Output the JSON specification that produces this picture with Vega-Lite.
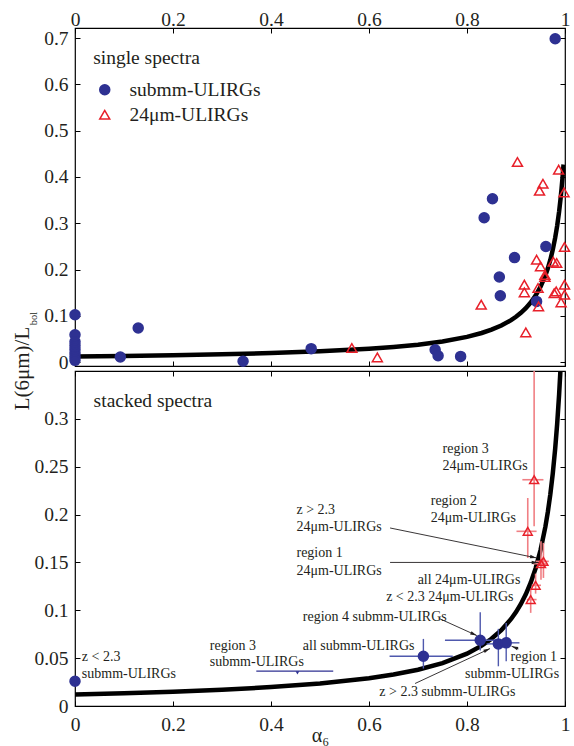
{
  "$schema": "https://vega.github.io/schema/vega-lite/v6.json",
  "padding": {"left": 10, "top": 8, "right": 4, "bottom": 0},
  "config": {
    "font": "Liberation Serif, Times New Roman, Times, serif",
    "view": {"stroke": "#000", "strokeWidth": 1.2},
    "axis": {"domain": false, "grid": false, "tickColor": "#000", "tickWidth": 1, "labelFont": "Liberation Serif, Times New Roman, Times, serif", "labelFontSize": 19.5, "labelColor": "#231f20", "titleFont": "Liberation Serif, Times New Roman, Times, serif", "titleColor": "#231f20", "titleFontWeight": "normal", "labelFlush": false, "labelOverlap": false},
    "legend": {"labelFont": "Liberation Serif, Times New Roman, Times, serif"},
    "text": {"font": "Liberation Serif, Times New Roman, Times, serif", "color": "#231f20"}
  },
  "datasets": {
    "curve": [
      {"a": 0, "l": 0.01205}, {"a": 0.1, "l": 0.01335}, {"a": 0.2, "l": 0.01497}, {"a": 0.3, "l": 0.01703},
      {"a": 0.4, "l": 0.01975}, {"a": 0.5, "l": 0.0235}, {"a": 0.6, "l": 0.02902}, {"a": 0.65, "l": 0.03288},
      {"a": 0.7, "l": 0.03792}, {"a": 0.75, "l": 0.04479}, {"a": 0.8, "l": 0.0547}, {"a": 0.83, "l": 0.06308},
      {"a": 0.85, "l": 0.07025}, {"a": 0.87, "l": 0.07926}, {"a": 0.89, "l": 0.09092}, {"a": 0.9, "l": 0.09814},
      {"a": 0.91, "l": 0.1066}, {"a": 0.92, "l": 0.1167}, {"a": 0.93, "l": 0.1288}, {"a": 0.94, "l": 0.1438},
      {"a": 0.95, "l": 0.1627}, {"a": 0.96, "l": 0.1874}, {"a": 0.965, "l": 0.2028}, {"a": 0.97, "l": 0.2209},
      {"a": 0.975, "l": 0.2426}, {"a": 0.98, "l": 0.269}, {"a": 0.984, "l": 0.2946}, {"a": 0.988, "l": 0.3256},
      {"a": 0.991, "l": 0.3536}, {"a": 0.993, "l": 0.3751}, {"a": 0.995, "l": 0.3993}, {"a": 0.997, "l": 0.4269}
    ],
    "single": [
      {"type": "submm-ULIRGs", "a": 0, "l": 0.1026}, {"type": "submm-ULIRGs", "a": 0, "l": 0.0594},
      {"type": "submm-ULIRGs", "a": 0, "l": 0.044}, {"type": "submm-ULIRGs", "a": 0, "l": 0.036},
      {"type": "submm-ULIRGs", "a": 0, "l": 0.028}, {"type": "submm-ULIRGs", "a": 0, "l": 0.02},
      {"type": "submm-ULIRGs", "a": 0, "l": 0.012}, {"type": "submm-ULIRGs", "a": 0, "l": 0.004},
      {"type": "submm-ULIRGs", "a": 0.0925, "l": 0.0112}, {"type": "submm-ULIRGs", "a": 0.129, "l": 0.0739},
      {"type": "submm-ULIRGs", "a": 0.343, "l": 0.002}, {"type": "submm-ULIRGs", "a": 0.98, "l": 0.6987},
      {"type": "submm-ULIRGs", "a": 0.852, "l": 0.353}, {"type": "submm-ULIRGs", "a": 0.835, "l": 0.312},
      {"type": "submm-ULIRGs", "a": 0.961, "l": 0.25}, {"type": "submm-ULIRGs", "a": 0.897, "l": 0.226},
      {"type": "submm-ULIRGs", "a": 0.866, "l": 0.184}, {"type": "submm-ULIRGs", "a": 0.868, "l": 0.1436},
      {"type": "submm-ULIRGs", "a": 0.942, "l": 0.1313}, {"type": "submm-ULIRGs", "a": 0.482, "l": 0.0292},
      {"type": "submm-ULIRGs", "a": 0.735, "l": 0.027}, {"type": "submm-ULIRGs", "a": 0.741, "l": 0.014},
      {"type": "submm-ULIRGs", "a": 0.787, "l": 0.0125},
      {"type": "24μm-ULIRGs", "a": 0.903, "l": 0.4324}, {"type": "24μm-ULIRGs", "a": 0.987, "l": 0.4158},
      {"type": "24μm-ULIRGs", "a": 0.955, "l": 0.3855}, {"type": "24μm-ULIRGs", "a": 0.948, "l": 0.3704},
      {"type": "24μm-ULIRGs", "a": 0.998, "l": 0.3667}, {"type": "24μm-ULIRGs", "a": 0.999, "l": 0.2488},
      {"type": "24μm-ULIRGs", "a": 0.942, "l": 0.2214}, {"type": "24μm-ULIRGs", "a": 0.95, "l": 0.2069},
      {"type": "24μm-ULIRGs", "a": 0.976, "l": 0.2171}, {"type": "24μm-ULIRGs", "a": 0.983, "l": 0.2143},
      {"type": "24μm-ULIRGs", "a": 0.959, "l": 0.1883}, {"type": "24μm-ULIRGs", "a": 0.959, "l": 0.184},
      {"type": "24μm-ULIRGs", "a": 0.917, "l": 0.1674}, {"type": "24μm-ULIRGs", "a": 0.917, "l": 0.1508},
      {"type": "24μm-ULIRGs", "a": 0.945, "l": 0.1603}, {"type": "24μm-ULIRGs", "a": 0.982, "l": 0.1529},
      {"type": "24μm-ULIRGs", "a": 0.978, "l": 0.149}, {"type": "24μm-ULIRGs", "a": 0.999, "l": 0.1674},
      {"type": "24μm-ULIRGs", "a": 0.999, "l": 0.1458}, {"type": "24μm-ULIRGs", "a": 0.992, "l": 0.1292},
      {"type": "24μm-ULIRGs", "a": 0.946, "l": 0.1205}, {"type": "24μm-ULIRGs", "a": 0.829, "l": 0.1242},
      {"type": "24μm-ULIRGs", "a": 0.92, "l": 0.0644}, {"type": "24μm-ULIRGs", "a": 0.565, "l": 0.0307},
      {"type": "24μm-ULIRGs", "a": 0.617, "l": 0.0104}
    ],
    "stacked": [
      {"name": "z<2.3 submm", "type": "submm", "a": 0, "l": 0.0259},
      {"name": "all submm", "type": "submm", "a": 0.711, "l": 0.052, "alo": 0.642, "ahi": 0.771, "llo": 0.0391, "lhi": 0.0701},
      {"name": "region 4 submm", "type": "submm", "a": 0.827, "l": 0.0687, "alo": 0.755, "ahi": 0.864, "llo": 0.0579, "lhi": 0.0979},
      {"name": "z>2.3 submm", "type": "submm", "a": 0.864, "l": 0.0649, "alo": 0.84, "ahi": 0.89, "llo": 0.0415, "lhi": 0.0806},
      {"name": "region 1 submm", "type": "submm", "a": 0.88, "l": 0.066, "alo": 0.853, "ahi": 0.907, "llo": 0.0468, "lhi": 0.0868},
      {"name": "region 3 24", "type": "24", "a": 0.937, "l": 0.2364, "alo": 0.913, "ahi": 0.956, "llo": 0.1877, "lhi": 0.36},
      {"name": "region 2 24", "type": "24", "a": 0.924, "l": 0.1825, "alo": 0.901, "ahi": 0.942, "llo": 0.1547, "lhi": 0.2173},
      {"name": "z>2.3 24", "type": "24", "a": 0.956, "l": 0.1511, "alo": 0.94, "ahi": 0.967, "llo": 0.1338, "lhi": 0.1704},
      {"name": "region 1 24", "type": "24", "a": 0.951, "l": 0.1487, "alo": 0.935, "ahi": 0.962, "llo": 0.132, "lhi": 0.172},
      {"name": "all 24", "type": "24", "a": 0.94, "l": 0.1261, "alo": 0.932, "ahi": 0.951, "llo": 0.1174, "lhi": 0.1383},
      {"name": "z<2.3 24", "type": "24", "a": 0.93, "l": 0.1112, "alo": 0.922, "ahi": 0.942, "llo": 0.0973, "lhi": 0.1216}
    ],
    "limit": [
      {"name": "region 3 submm", "a": 0.454, "l": 0.0365, "lmark": 0.0345, "alo": 0.37, "ahi": 0.527}
    ],
    "arrows": [
      {"name": "A1", "a": 0.643, "l": 0.186, "a2": 0.942, "l2": 0.1547},
      {"name": "A2", "a": 0.643, "l": 0.15, "a2": 0.9455, "l2": 0.15},
      {"name": "A3", "a": 0.745, "l": 0.091, "a2": 0.82, "l2": 0.0736},
      {"name": "A4", "a": 0.694, "l": 0.0235, "a2": 0.847, "l2": 0.06},
      {"name": "A5", "a": 0.905, "l": 0.0597, "a2": 0.891, "l2": 0.0624}
    ],
    "labelsLeft": [
      {"text": "z < 2.3", "a": 0.014, "l": 0.0517},
      {"text": "submm-ULIRGs", "a": 0.014, "l": 0.0339},
      {"text": "region 3", "a": 0.275, "l": 0.0624},
      {"text": "submm-ULIRGs", "a": 0.275, "l": 0.0457},
      {"text": "region 3", "a": 0.75, "l": 0.2685},
      {"text": "24μm-ULIRGs", "a": 0.75, "l": 0.2503},
      {"text": "region 2", "a": 0.726, "l": 0.2145},
      {"text": "24μm-ULIRGs", "a": 0.726, "l": 0.1965},
      {"text": "z > 2.3", "a": 0.452, "l": 0.2051},
      {"text": "24μm-ULIRGs", "a": 0.452, "l": 0.1871},
      {"text": "region 1", "a": 0.452, "l": 0.1599},
      {"text": "24μm-ULIRGs", "a": 0.452, "l": 0.1414},
      {"text": "region 4 submm-ULIRGs", "a": 0.465, "l": 0.0931},
      {"text": "all submm-ULIRGs", "a": 0.465, "l": 0.0632},
      {"text": "region 1", "a": 0.889, "l": 0.0514},
      {"text": "submm-ULIRGs", "a": 0.796, "l": 0.0339},
      {"text": "z > 2.3 submm-ULIRGs", "a": 0.621, "l": 0.0144}
    ],
    "labelsRight": [
      {"text": "all 24μm-ULIRGs", "a": 0.909, "l": 0.1313},
      {"text": "z < 2.3 24μm-ULIRGs", "a": 0.895, "l": 0.114}
    ],
    "panelTitles": [
      {"panel": "top", "text": "single spectra", "a": 0.037, "l": 0.657},
      {"panel": "bottom", "text": "stacked spectra", "a": 0.038, "l": 0.319}
    ]
  },
  "resolve": {"scale": {"x": "independent", "y": "independent"}},
  "spacing": 5,
  "bounds": "flush",
  "vconcat": [
    {
      "width": 490,
      "height": 338,
      "resolve": {"axis": {"x": "independent", "y": "independent"}},
      "layer": [
        {
          "data": {"name": "curve"},
          "mark": {"type": "line", "color": "#000", "strokeWidth": 4.5, "clip": true},
          "encoding": {
            "x": {"field": "a", "type": "quantitative", "scale": {"domain": [0, 1], "nice": false, "zero": false},
                  "axis": {"orient": "top", "values": [0, 0.2, 0.4, 0.6, 0.8, 1], "format": "~g", "title": null, "tickSize": -5, "labelPadding": 3.5}},
            "y": {"field": "l", "type": "quantitative", "scale": {"domain": [-0.0082, 0.7218], "nice": false, "zero": false},
                  "axis": {"orient": "left", "values": [0, 0.1, 0.2, 0.3, 0.4, 0.5, 0.6, 0.7], "format": "~g", "tickSize": -5, "labelPadding": 12,
                           "title": "bol", "titleFontSize": 10.5, "titleAngle": 270, "titleAlign": "left", "titleBaseline": "alphabetic", "titleX": -39, "titleY": 296.7}}
          }
        },
        {
          "data": {"name": "single"},
          "mark": {"type": "point", "size": 100, "strokeWidth": 1.5, "opacity": 1},
          "encoding": {
            "x": {"field": "a", "type": "quantitative",
                  "axis": {"orient": "bottom", "values": [0, 0.2, 0.4, 0.6, 0.8, 1], "labels": false, "title": null, "tickSize": -5}},
            "y": {"field": "l", "type": "quantitative",
                  "axis": {"orient": "right", "values": [0, 0.1, 0.2, 0.3, 0.4, 0.5, 0.6, 0.7], "labels": false, "title": null, "tickSize": -5}},
            "shape": {"field": "type", "type": "nominal", "scale": {"domain": ["submm-ULIRGs", "24μm-ULIRGs"], "range": ["circle", "triangle-up"]},
                      "legend": {"orient": "none", "legendX": 20, "legendY": 52, "title": null, "labelFontSize": 19.5, "labelColor": "#231f20", "symbolSize": 100, "symbolStrokeWidth": 1.5, "labelOffset": 15, "rowPadding": 4, "padding": 0}},
            "fill": {"field": "type", "type": "nominal", "scale": {"domain": ["submm-ULIRGs", "24μm-ULIRGs"], "range": ["#2e3192", "transparent"]},
                     "legend": {"orient": "none", "legendX": 20, "legendY": 52, "title": null, "labelFontSize": 19.5, "labelColor": "#231f20", "symbolSize": 100, "symbolStrokeWidth": 1.5, "labelOffset": 15, "rowPadding": 4, "padding": 0}},
            "stroke": {"field": "type", "type": "nominal", "scale": {"domain": ["submm-ULIRGs", "24μm-ULIRGs"], "range": ["#2e3192", "#e8202a"]},
                       "legend": {"orient": "none", "legendX": 20, "legendY": 52, "title": null, "labelFontSize": 19.5, "labelColor": "#231f20", "symbolSize": 100, "symbolStrokeWidth": 1.5, "labelOffset": 15, "rowPadding": 4, "padding": 0}}
          }
        },
        {
          "data": {"name": "panelTitles"},
          "transform": [{"filter": "datum.panel === 'top'"}],
          "mark": {"type": "text", "align": "left", "baseline": "middle", "fontSize": 19.5},
          "encoding": {
            "x": {"field": "a", "type": "quantitative", "axis": null},
            "y": {"field": "l", "type": "quantitative", "axis": null},
            "text": {"field": "text"}
          }
        }
      ]
    },
    {
      "width": 490,
      "height": 335,
      "resolve": {"axis": {"x": "independent", "y": "independent"}},
      "layer": [
        {
          "data": {"name": "curve"},
          "mark": {"type": "line", "color": "#000", "strokeWidth": 4.5, "clip": true},
          "encoding": {
            "x": {"field": "a", "type": "quantitative", "scale": {"domain": [0, 1], "nice": false, "zero": false},
                  "axis": {"orient": "bottom", "values": [0, 0.2, 0.4, 0.6, 0.8, 1], "format": "~g", "tickSize": -5, "labelPadding": 14,
                           "title": "α₆", "titleFontSize": 20, "titleBaseline": "alphabetic", "titleY": 35}},
            "y": {"field": "l", "type": "quantitative", "scale": {"domain": [0, 0.35], "nice": false, "zero": false},
                  "axis": {"orient": "left", "values": [0, 0.05, 0.1, 0.15, 0.2, 0.25, 0.3], "format": "~g", "tickSize": -5, "labelPadding": 12,
                           "title": "L(6μm)/L", "titleFontSize": 21, "titleAngle": 270, "titleAlign": "left", "titleBaseline": "alphabetic", "titleX": -46.7, "titleY": 38.8}}
          }
        },
        {
          "data": {"name": "stacked"},
          "transform": [{"filter": "datum.type === '24' && isValid(datum.alo)"}],
          "mark": {"type": "rule", "color": "#f07f84", "strokeWidth": 1.6, "clip": true},
          "encoding": {
            "x": {"field": "alo", "type": "quantitative", "axis": null},
            "x2": {"field": "ahi"},
            "y": {"field": "l", "type": "quantitative", "axis": null}
          }
        },
        {
          "data": {"name": "stacked"},
          "transform": [{"filter": "datum.type === '24' && isValid(datum.llo)"}],
          "mark": {"type": "rule", "color": "#f07f84", "strokeWidth": 1.6, "clip": true},
          "encoding": {
            "x": {"field": "a", "type": "quantitative", "axis": null},
            "y": {"field": "llo", "type": "quantitative", "axis": null},
            "y2": {"field": "lhi"}
          }
        },
        {
          "data": {"name": "stacked"},
          "transform": [{"filter": "datum.type === 'submm' && isValid(datum.alo)"}],
          "mark": {"type": "rule", "color": "#4f59ad", "strokeWidth": 1.4, "clip": true},
          "encoding": {
            "x": {"field": "alo", "type": "quantitative", "axis": null},
            "x2": {"field": "ahi"},
            "y": {"field": "l", "type": "quantitative", "axis": null}
          }
        },
        {
          "data": {"name": "stacked"},
          "transform": [{"filter": "datum.type === 'submm' && isValid(datum.llo)"}],
          "mark": {"type": "rule", "color": "#4f59ad", "strokeWidth": 1.4, "clip": true},
          "encoding": {
            "x": {"field": "a", "type": "quantitative", "axis": null},
            "y": {"field": "llo", "type": "quantitative", "axis": null},
            "y2": {"field": "lhi"}
          }
        },
        {
          "data": {"name": "limit"},
          "mark": {"type": "rule", "color": "#2e3192", "strokeWidth": 1.2},
          "encoding": {
            "x": {"field": "alo", "type": "quantitative", "axis": null},
            "x2": {"field": "ahi"},
            "y": {"field": "l", "type": "quantitative", "axis": null}
          }
        },
        {
          "data": {"name": "limit"},
          "mark": {"type": "point", "shape": "triangle-down", "size": 14, "filled": true, "color": "#2e3192", "opacity": 1},
          "encoding": {
            "x": {"field": "a", "type": "quantitative", "axis": null},
            "y": {"field": "lmark", "type": "quantitative", "axis": null}
          }
        },
        {
          "data": {"name": "stacked"},
          "transform": [{"filter": "datum.type === 'submm'"}],
          "mark": {"type": "point", "shape": "circle", "size": 100, "filled": true, "color": "#2e3192", "stroke": "#2e3192", "strokeWidth": 1.5, "opacity": 1},
          "encoding": {
            "x": {"field": "a", "type": "quantitative", "axis": null},
            "y": {"field": "l", "type": "quantitative", "axis": null}
          }
        },
        {
          "data": {"name": "stacked"},
          "transform": [{"filter": "datum.type === '24'"}],
          "mark": {"type": "point", "shape": "triangle-up", "size": 80, "filled": false, "color": "#e8202a", "strokeWidth": 1.5, "opacity": 1},
          "encoding": {
            "x": {"field": "a", "type": "quantitative",
                  "axis": {"orient": "top", "values": [0, 0.2, 0.4, 0.6, 0.8, 1], "labels": false, "title": null, "tickSize": -5}},
            "y": {"field": "l", "type": "quantitative",
                  "axis": {"orient": "right", "values": [0, 0.05, 0.1, 0.15, 0.2, 0.25, 0.3], "labels": false, "title": null, "tickSize": -5}}
          }
        },
        {
          "data": {"name": "arrows"},
          "mark": {"type": "rule", "color": "#231f20", "strokeWidth": 0.9},
          "encoding": {
            "x": {"field": "a", "type": "quantitative", "axis": null},
            "y": {"field": "l", "type": "quantitative", "axis": null},
            "x2": {"field": "a2"},
            "y2": {"field": "l2"}
          }
        },
        {
          "data": {"name": "arrows"},
          "transform": [{"filter": "datum.name === 'A1'"}],
          "mark": {"type": "point", "shape": "M0,0L0.6,2.2L-0.6,2.2Z", "size": 36, "filled": true, "color": "#231f20", "opacity": 1, "angle": 101.6},
          "encoding": {"x": {"field": "a2", "type": "quantitative", "axis": null}, "y": {"field": "l2", "type": "quantitative", "axis": null}}
        },
        {
          "data": {"name": "arrows"},
          "transform": [{"filter": "datum.name === 'A2'"}],
          "mark": {"type": "point", "shape": "M0,0L0.6,2.2L-0.6,2.2Z", "size": 36, "filled": true, "color": "#231f20", "opacity": 1, "angle": 90},
          "encoding": {"x": {"field": "a2", "type": "quantitative", "axis": null}, "y": {"field": "l2", "type": "quantitative", "axis": null}}
        },
        {
          "data": {"name": "arrows"},
          "transform": [{"filter": "datum.name === 'A3'"}],
          "mark": {"type": "point", "shape": "M0,0L0.6,2.2L-0.6,2.2Z", "size": 36, "filled": true, "color": "#231f20", "opacity": 1, "angle": 114.5},
          "encoding": {"x": {"field": "a2", "type": "quantitative", "axis": null}, "y": {"field": "l2", "type": "quantitative", "axis": null}}
        },
        {
          "data": {"name": "arrows"},
          "transform": [{"filter": "datum.name === 'A4'"}],
          "mark": {"type": "point", "shape": "M0,0L0.6,2.2L-0.6,2.2Z", "size": 36, "filled": true, "color": "#231f20", "opacity": 1, "angle": 65},
          "encoding": {"x": {"field": "a2", "type": "quantitative", "axis": null}, "y": {"field": "l2", "type": "quantitative", "axis": null}}
        },
        {
          "data": {"name": "arrows"},
          "transform": [{"filter": "datum.name === 'A5'"}],
          "mark": {"type": "point", "shape": "M0,0L0.6,2.2L-0.6,2.2Z", "size": 36, "filled": true, "color": "#231f20", "opacity": 1, "angle": -68.5},
          "encoding": {"x": {"field": "a2", "type": "quantitative", "axis": null}, "y": {"field": "l2", "type": "quantitative", "axis": null}}
        },
        {
          "data": {"name": "labelsLeft"},
          "mark": {"type": "text", "align": "left", "baseline": "middle", "fontSize": 14},
          "encoding": {
            "x": {"field": "a", "type": "quantitative", "axis": null},
            "y": {"field": "l", "type": "quantitative", "axis": null},
            "text": {"field": "text"}
          }
        },
        {
          "data": {"name": "labelsRight"},
          "mark": {"type": "text", "align": "right", "baseline": "middle", "fontSize": 14},
          "encoding": {
            "x": {"field": "a", "type": "quantitative", "axis": null},
            "y": {"field": "l", "type": "quantitative", "axis": null},
            "text": {"field": "text"}
          }
        },
        {
          "data": {"name": "panelTitles"},
          "transform": [{"filter": "datum.panel === 'bottom'"}],
          "mark": {"type": "text", "align": "left", "baseline": "middle", "fontSize": 19.5},
          "encoding": {
            "x": {"field": "a", "type": "quantitative", "axis": null},
            "y": {"field": "l", "type": "quantitative", "axis": null},
            "text": {"field": "text"}
          }
        }
      ]
    }
  ]
}
